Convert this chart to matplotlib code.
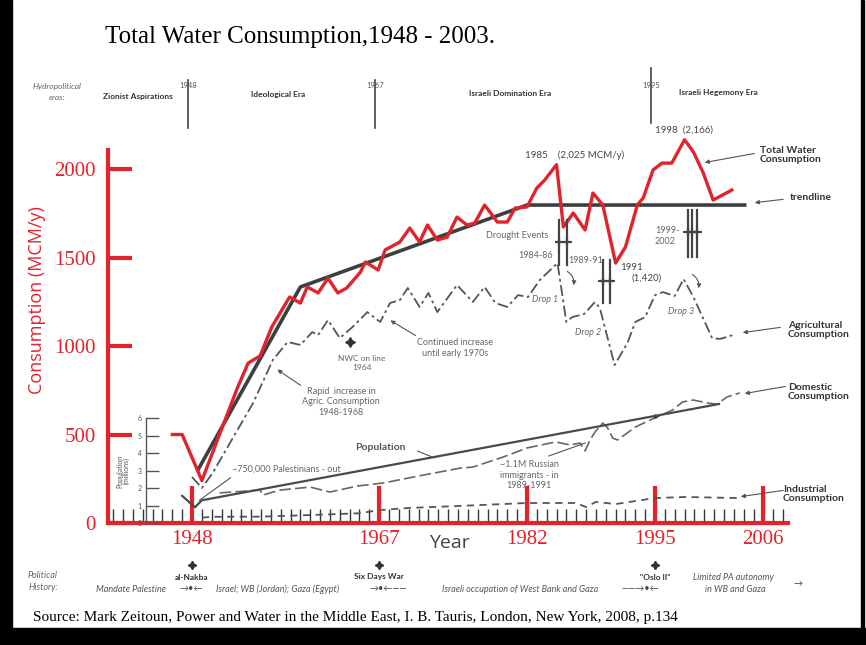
import matplotlib
matplotlib.use('Agg')
import matplotlib.pyplot as plt
from matplotlib.patches import Rectangle, FancyArrowPatch

plt.rcParams['font.family'] = ['Lato', 'DejaVu Sans']

RED = '#e2232b'
GREY = '#555555'
DARK = '#3b3f40'
W, H = 866, 645

# total water consumption, MCM/y
total_years = [1946, 1947, 1949, 1952.6, 1953.7, 1954.9, 1956.1, 1957.9, 1959, 1959.7, 1960.8,
               1961.8, 1962.8, 1963.7, 1965.1, 1965.6, 1966.9, 1967.6, 1969.1, 1970.1, 1971.1,
               1971.9, 1972.9, 1973.9, 1974.9, 1975.9, 1976.7, 1977.7, 1979, 1980, 1980.8, 1982,
               1983, 1983.8, 1985, 1985.7, 1986.7, 1987.9, 1988.7, 1989.7, 1991, 1992, 1993.2,
               1993.8, 1994.8, 1995.7, 1996.7, 1998, 1998.9, 1999.9, 2000.9, 2002.8]
total_mcm = [500, 500, 240, 763, 904, 944, 1108, 1277, 1243, 1334, 1300,
             1384, 1300, 1328, 1418, 1475, 1430, 1543, 1588, 1667, 1588,
             1684, 1599, 1616, 1729, 1684, 1695, 1797, 1701, 1701, 1780, 1786,
             1893, 1938, 2025, 1673, 1752, 1656, 1865, 1797, 1469, 1560, 1797,
             1837, 1995, 2034, 2034, 2166, 2097, 1978, 1825, 1882]

trend_years = [1948.6, 1959, 1982, 2004.1]
trend_mcm = [300, 1334, 1797, 1797]

agri_years = [1948, 1949, 1950.1, 1952.2, 1954.2, 1956.2, 1957.7, 1959, 1960.2, 1960.8, 1961.8,
              1963, 1964.3, 1965.8, 1967.1, 1968.1, 1969.1, 1969.9, 1971.1, 1972, 1972.9,
              1974.9, 1976.5, 1977.7, 1978.8, 1980, 1981.1, 1982.1, 1983.3, 1985.1, 1986,
              1986.6, 1987.8, 1988.9, 1989.4, 1990.9, 1992.2, 1993, 1994, 1995, 1995.8,
              1997, 1997.9, 1998.9, 2000.8, 2001.6, 2002.9]
agri_mcm = [260, 198, 283, 486, 678, 921, 1023, 1006, 1079, 1062, 1147,
            1045, 1108, 1192, 1136, 1243, 1260, 1328, 1221, 1300, 1192,
            1345, 1249, 1334, 1243, 1221, 1288, 1277, 1373, 1469, 1136,
            1164, 1181, 1249, 1215, 893, 1017, 1136, 1164, 1288, 1305,
            1283, 1379, 1277, 1045, 1040, 1062]

dom_years = [1950.8, 1954.9, 1955.2, 1956.9, 1960, 1962, 1964.8, 1967.4, 1971.5, 1975.3,
             1976.5, 1979.6, 1982, 1984.9, 1986.4, 1987.4, 1987.9, 1988.4, 1988.9, 1989.7,
             1990.2, 1990.7, 1991.2, 1993, 1994.5, 1996.8, 1997.8, 1998.9, 2000.3, 2001.3,
             2002.3, 2003.6]
dom_mcm = [170, 186, 158, 186, 203, 175, 209, 226, 271, 311,
           316, 373, 424, 458, 441, 452, 407, 469, 514, 565,
           537, 480, 469, 542, 582, 639, 684, 695, 678, 672,
           712, 735]

ind_years = [1949, 1950, 1955, 1960, 1965, 1967, 1970, 1975, 1982, 1987, 1988, 1989, 1991,
             1995, 1998, 2003.5]
ind_mcm = [30, 35, 36, 45, 55, 73, 85, 96, 113, 113, 90, 119, 107, 141, 147, 141]

# population, millions
pop_years = [1947, 1948.3, 1949, 2001.5]
pop_millions = [1.55, 0.9, 1.3, 6.8]

major_years = [1948, 1967, 1982, 1995, 2006]
era_years = [1948, 1967, 1995]
era_names = ['Zionist Aspirations', 'Ideological Era', 'Israeli Domination Era',
             'Israeli Hegemony Era']
history_events = ['al-Nakba', 'Six Days War', '"Oslo II"']


def ftext(x, y, s, **kw):
    kw.setdefault('ha', 'center')
    kw.setdefault('va', 'center')
    return fig.text(x / W, 1 - y / H, s, **kw)


def farrow(x1, y1, x2, y2, style='-|>', rad=0.0, color=GREY):
    fig.add_artist(FancyArrowPatch(
        (x1 / W, 1 - y1 / H), (x2 / W, 1 - y2 / H), transform=fig.transFigure,
        arrowstyle=style, mutation_scale=6, lw=0.8, color=color,
        connectionstyle=f'arc3,rad={rad}'))


fig = plt.figure(figsize=(W / 100, H / 100), dpi=100)
ax = fig.add_axes([108 / W, 1 - 523 / H, 680 / W, 373 / H])
ax.set_xlim(1939.47, 2008.5)
ax.set_ylim(0, 2108)

for s in ['top', 'right']:
    ax.spines[s].set_visible(False)
for s in ['left', 'bottom']:
    ax.spines[s].set_color(RED)
    ax.spines[s].set_linewidth(3)

ax.set_yticks([0, 500, 1000, 1500, 2000])
ax.tick_params(axis='y', direction='in', length=17, width=3, color=RED,
               labelcolor=RED, labelsize=15, pad=9)
ax.set_xticks(major_years)
ax.set_xticks(range(1940, 2009), minor=True)
ax.tick_params(axis='x', which='major', direction='in', length=27, width=3, color=RED,
               labelcolor=RED, labelsize=15, pad=5)
ax.tick_params(axis='x', which='minor', direction='in', length=10, width=1, color='#333')
for lbl in ax.get_xticklabels() + ax.get_yticklabels():
    lbl.set_fontfamily('Liberation Serif')

# series
ax.plot(agri_years, agri_mcm, color=GREY, lw=1.3, dashes=[6, 2, 1.5, 2], zorder=2)
ax.plot(dom_years, dom_mcm, color='#666666', lw=1.2, dashes=[7, 2.5], zorder=2)
ax.plot(ind_years, ind_mcm, color=GREY, lw=1.3, dashes=[4, 3], zorder=2)
ax.plot(trend_years, trend_mcm, color=DARK, lw=2.6, zorder=3)
ax.plot(total_years, total_mcm, color=RED, lw=2.4, zorder=4, clip_on=False)

# small population axis
ax2 = ax.twinx()
ax2.set_ylim(0, 2108 / 98.9)
for s in ['top', 'right', 'bottom']:
    ax2.spines[s].set_visible(False)
ax2.spines['left'].set_position(('data', 1943.3))
ax2.spines['left'].set_bounds(0, 6)
ax2.spines['left'].set_color(GREY)
ax2.spines['left'].set_linewidth(1)
ax2.yaxis.set_ticks_position('left')
ax2.set_yticks(range(0, 7))
ax2.tick_params(axis='y', direction='in', length=9, width=1, color=GREY,
                labelcolor=GREY, labelsize=5, pad=3)
ax2.plot(pop_years, pop_millions, color='#4a4a4a', lw=1.6, zorder=3)
ax2.plot([1995], [1.3 + (1995 - 1949) * (6.8 - 1.3) / (2001.5 - 1949)],
         marker='o', ms=2, color='#333')
ftext(123, 471, 'Population\n(millions)', rotation=90, size=5, color=GREY, linespacing=0.9)

# drought events
xt = ax.get_xaxis_transform()
for xs, y0, y1, yc in [([1985.3, 1986.1], 1712, 1458, 1588),
                       ([1989.7, 1990.4], 1486, 1243, 1367),
                       ([1998.3, 1998.8, 1999.3], 1769, 1503, 1644)]:
    for x in xs:
        ax.plot([x, x], [y0, y1], color='#444', lw=1.6, zorder=5)
        ax.plot([x], [yc], marker='+', ms=6, mew=1.6, color='#444', zorder=5)
    ax.plot([xs[0] - 0.4, xs[-1] + 0.4], [yc, yc], color='#444', lw=1.4, zorder=5)

# NWC marker
ax.plot([1964], [1025], marker=(4, 1, 0), ms=7, color='#333', zorder=5)

# era lines at the top and history markers at the bottom
for yr, yb, yt in zip(era_years, [80, 80, 68], [128, 128, 123]):
    ax.plot([yr - 0.4, yr - 0.4], [(523 - yb) / 373, (523 - yt) / 373], transform=xt,
            clip_on=False, color='#444', lw=1.2)
    ftext(192 + (yr - 0.4 - 1948) * 9.85, 85, str(yr), size=5.5, color=GREY)
for yr, name in zip(era_years, history_events):
    ax.plot([yr], [(523 - 565) / 373], transform=xt, clip_on=False,
            marker=(4, 1, 0), ms=6, color='#333')
    ftext(192 + (yr - 1948) * 9.85, 577, name, size=6, weight='bold', color='#333')

# header
ftext(105, 37, 'Total Water Consumption,1948 - 2003.', ha='left',
      family='Liberation Serif', size=18)
ftext(57, 86, 'Hydropolitical', style='italic', size=6, color='#666')
ftext(57, 97, 'eras:', style='italic', size=6, color='#666')
for (x, y), name in zip([(138, 97), (278, 95), (510, 93), (718, 92)], era_names):
    ftext(x, y, name, size=6, weight='bold', color='#333')

# annotations
ftext(655, 130, '1998  (2,166)', ha='left', size=7, color='#444')
ftext(525, 155, '1985    (2,025 MCM/y)', ha='left', size=7, color='#444')
ftext(760, 155, 'Total Water\nConsumption', ha='left', size=7.5, weight='bold',
      color='#333', linespacing=1.1)
farrow(757, 153, 702, 163)
ftext(790, 198, 'trendline', ha='left', size=7.5, weight='bold', color='#333')
farrow(786, 199, 752, 203)
ftext(548, 236, 'Drought Events', ha='right', size=6.5, color='#666')
ftext(553, 256, '1984-86', ha='right', size=6.5, color='#666')
ftext(568, 260, '1989-91', ha='left', size=6.5, color='#666')
ftext(620, 267, '1991', ha='left', size=7, color='#444')
ftext(632, 278, '(1,420)', ha='left', size=7, color='#444')
ftext(655, 236, '1999-\n2002', ha='left', size=6.5, color='#666', linespacing=1.2)
ftext(532, 300, 'Drop 1', ha='left', size=6.5, style='italic', color='#666')
ftext(575, 332, 'Drop 2', ha='left', size=6.5, style='italic', color='#666')
ftext(668, 312, 'Drop 3', ha='left', size=6.5, style='italic', color='#666')
farrow(565, 270, 573, 288, rad=-0.4)
farrow(690, 273, 698, 291, rad=-0.4)
ftext(788, 330, 'Agricultural\nConsumption', ha='left', size=7.5, weight='bold',
      color='#333', linespacing=1.1)
farrow(783, 327, 740, 333)
ftext(788, 392, 'Domestic\nConsumption', ha='left', size=7.5, weight='bold',
      color='#333', linespacing=1.1)
farrow(788, 386, 742, 394)
ftext(783, 494, 'Industrial\nConsumption', ha='left', size=7.5, weight='bold',
      color='#333', linespacing=1.1)
farrow(786, 490, 738, 497)
ftext(455, 348, 'Continued increase\nuntil early 1970s', size=6.5, color='#666')
farrow(418, 337, 388, 319)
ftext(362, 363, 'NWC on line\n1964', size=6, color='#666')
ftext(341, 402, 'Rapid  increase in\nAgric. Consumption\n1948-1968', size=6.5, color='#666')
farrow(303, 387, 275, 368)
ftext(355, 448, 'Population', ha='left', size=7.5, weight='bold', color='#555')
farrow(415, 450, 437, 459, style='-')
ftext(232, 469, '~750,000 Palestinians - out', ha='left', size=6.5, color='#666')
farrow(233, 476, 197, 502, style='-')
ftext(529, 475, '~1.1M Russian\nimmigrants - in\n1989-1991', size=6.5, color='#666')
farrow(546, 457, 588, 442, style='-')

# axis titles
ftext(37, 300, 'Consumption (MCM/y)', rotation=90, color=RED, size=13, family='Open Sans')
ftext(449, 543, 'Year', color='#444', size=14, family='Open Sans')

# political history
ftext(43, 575, 'Political', style='italic', size=6.5, color='#666')
ftext(43, 588, 'History:', style='italic', size=6.5, color='#666')
ftext(131, 589, 'Mandate Palestine', style='italic', size=6.5, color='#555')
ftext(191, 589, '\u2192\u2022\u2190', size=6.5, color='#444')
ftext(278, 589, 'Israel; WB (Jordan); Gaza (Egypt)', style='italic', size=6.5, color='#555')
ftext(388, 589, '\u2192\u2022\u2190\u2014\u2014', size=6.5, color='#444')
ftext(520, 589, 'Israeli occupation of West Bank and Gaza', style='italic', size=6.5,
      color='#555')
ftext(640, 589, '\u2014\u2014\u2192\u2022\u2190', size=6.5, color='#444')
ftext(733, 578, 'Limited PA autonomy', style='italic', size=6.5, color='#555')
ftext(735, 590, 'in WB and Gaza', style='italic', size=6.5, color='#555')
ftext(798, 584, '\u2192', size=6.5, color='#444')

ftext(33, 617, 'Source: Mark Zeitoun, Power and Water in the Middle East, I. B. Tauris, '
      'London, New York, 2008, p.134', ha='left', family='Liberation Serif', size=11)

# frame
fig.add_artist(Rectangle((0, 0), 12 / W, 1, transform=fig.transFigure, color='black'))
fig.add_artist(Rectangle((0, 0), 1, 17 / H, transform=fig.transFigure, color='black'))
fig.add_artist(Rectangle((861 / W, 0), 3 / W, 1, transform=fig.transFigure, color='black'))

fig.savefig('out.png', dpi=100)
